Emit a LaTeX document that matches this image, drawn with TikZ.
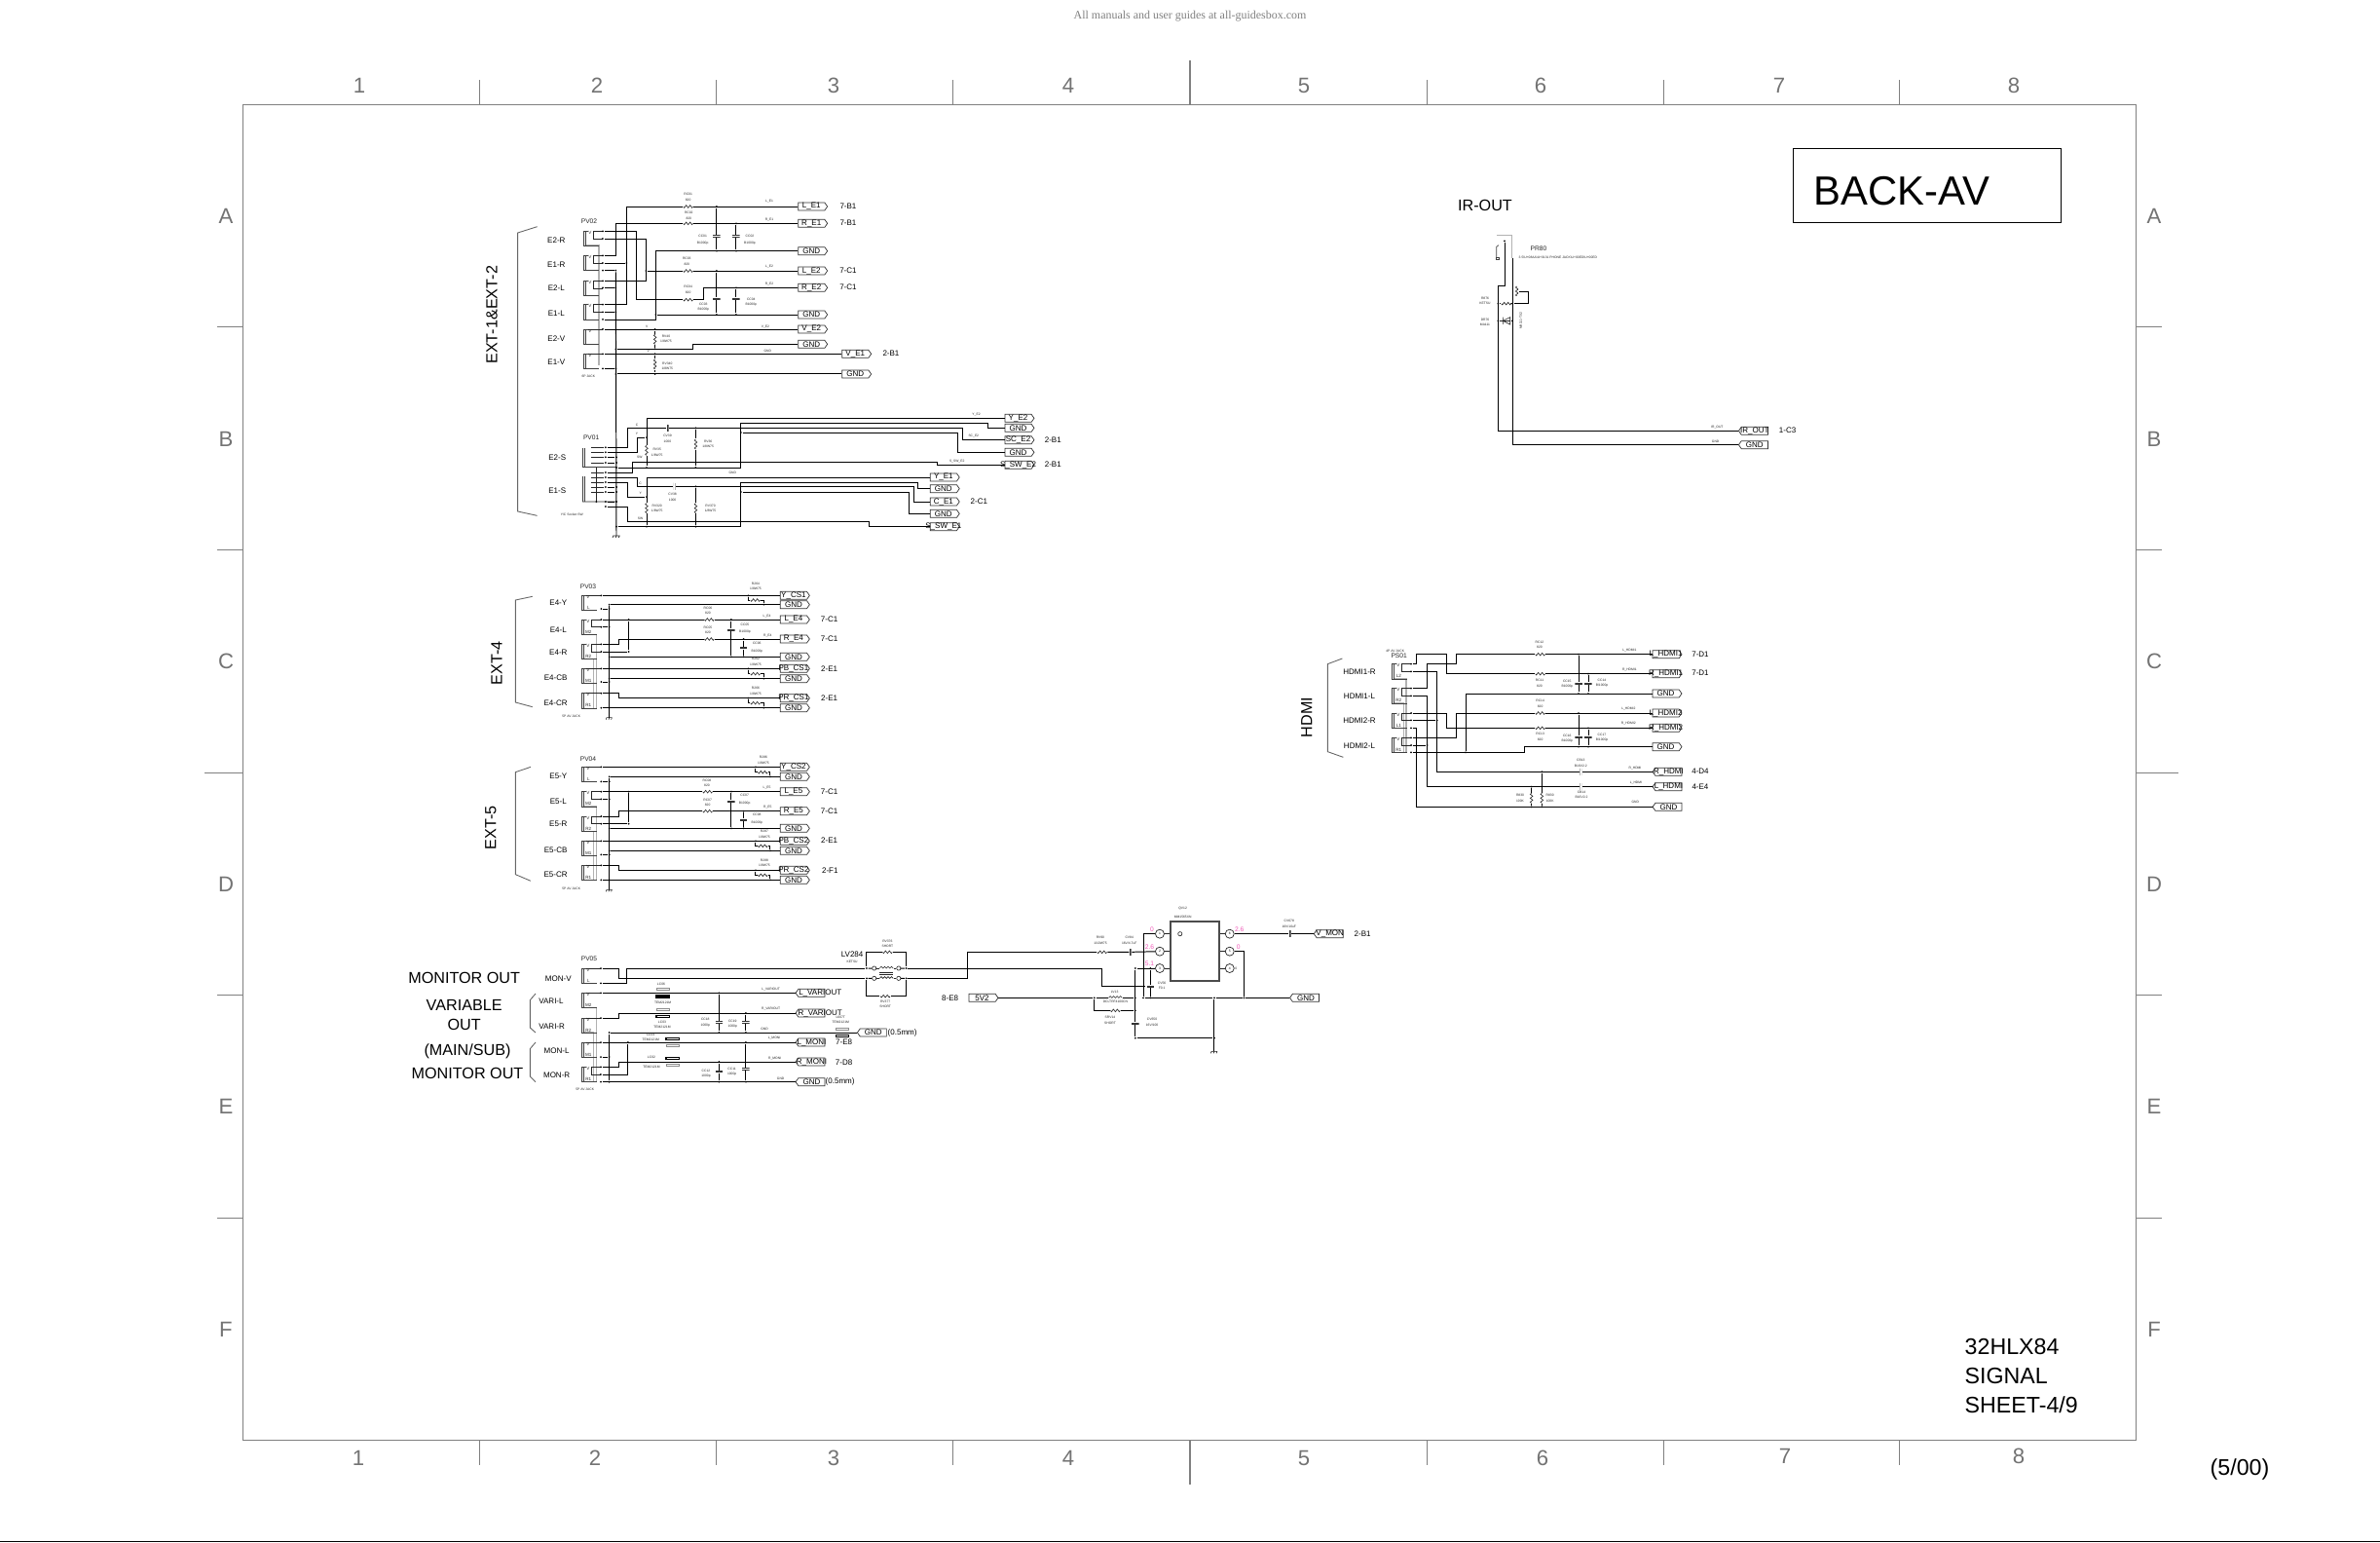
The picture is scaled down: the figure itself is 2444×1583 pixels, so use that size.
\documentclass[tikz,border=0pt]{standalone}
\usepackage{fontspec}
\setmainfont{Liberation Sans}
\newfontfamily\serfont{Liberation Serif}
\usetikzlibrary{shapes.symbols}
\newcommand{\fsheet}{\fontsize{6.3}{7}\selectfont}
\newcommand{\ftitle}{\fontsize{11.9}{13}\selectfont}
\newcommand{\fnote}{\fontsize{6.6}{8.5}\selectfont}
\newcommand{\fbig}{\fontsize{4.6}{5.4}\selectfont}
\newcommand{\flab}{\fontsize{2.28}{2.7}\selectfont}
\newcommand{\fpv}{\fontsize{1.9}{2.3}\selectfont}
\newcommand{\ftin}{\fontsize{0.95}{1.6}\selectfont}
\newcommand{\fpin}{\fontsize{1.3}{1.6}\selectfont}
\newcommand{\gtx}[1]{\makebox[0pt]{#1}}
\definecolor{pinkn}{RGB}{240,90,185}
\tikzset
{%
sec/.style n args={3}{shift={(#1,#2)}, x=0.1mm/#3, y=-0.1mm/3},
wire/.style={draw=black, line width=0.28pt},
thinw/.style={draw=black!85, line width=0.18pt},
jkl/.style={draw=black!75, line width=0.2pt},
shield/.style={draw=black!30, line width=0.4pt},
brace/.style={draw=black!60, line width=0.25pt},
framel/.style={draw=black!50, line width=0.3pt},
junc/.style={circle, fill=black, inner sep=0pt, minimum size=0.2mm},
big/.style={inner sep=0pt, font=\fbig, align=center},
lab/.style={inner sep=0pt, font=\flab},
pvt/.style={inner sep=0pt, font=\fpv, text=black!85},
tint/.style={inner sep=0pt, font=\ftin, align=center, text=black!85},
pint/.style={inner sep=0pt, font=\fpin, text=black!85},
volt/.style={inner sep=0pt, font=\fpv, text=pinkn},
sheetn/.style={inner sep=0pt, font=\fsheet, text=black!55},
gater/.style={signal, signal to=east, signal from=nowhere, signal pointer angle=110, draw=black!80, line width=0.2pt, inner sep=0pt, minimum width=3mm, minimum height=0.8mm, anchor=west, font=\flab},
gatel/.style={signal, signal to=west, signal from=nowhere, signal pointer angle=110, draw=black!80, line width=0.2pt, inner sep=0pt, minimum width=3mm, minimum height=0.8mm, anchor=west, font=\flab},
rzig/.style={rectangle, inner sep=0pt, minimum width=1mm, minimum height=0.34mm, path picture={
	\draw[thinw] (path picture bounding box.west) -- ++(.1mm,-.13mm) -- ++(.2mm,.26mm) -- ++(.2mm,-.26mm) -- ++(.2mm,.26mm) -- ++(.2mm,-.26mm) -- ++(.1mm,.13mm);
}},
rzigv/.style={rectangle, inner sep=0pt, minimum width=0.34mm, minimum height=1mm, path picture={
	\draw[thinw] (path picture bounding box.north) -- ++(-.13mm,-.1mm) -- ++(.26mm,-.2mm) -- ++(-.26mm,-.2mm) -- ++(.26mm,-.2mm) -- ++(-.26mm,-.2mm) -- ++(.13mm,-.1mm);
}},
capv/.style={rectangle, inner sep=0pt, minimum width=0.75mm, minimum height=0.16mm, path picture={
	\draw[draw=black!80, line width=0.2pt] (path picture bounding box.north west) -- (path picture bounding box.north east) (path picture bounding box.south west) -- (path picture bounding box.south east);
}},
caph/.style={rectangle, inner sep=0pt, minimum width=0.16mm, minimum height=0.75mm, path picture={
	\draw[draw=black!80, line width=0.2pt] (path picture bounding box.north west) -- (path picture bounding box.south west) (path picture bounding box.north east) -- (path picture bounding box.south east);
}},
coil/.style={rectangle, inner sep=0pt, minimum width=1.4mm, minimum height=0.5mm, path picture={
	\draw[thinw] (path picture bounding box.west) arc (180:0:.175mm) arc (180:0:.175mm) arc (180:0:.175mm) arc (180:0:.175mm);
}},
term/.style={circle, draw=black!85, line width=0.18pt, inner sep=0pt, minimum size=0.42mm},
pinc/.style={circle, draw=black!85, line width=0.2pt, inner sep=0pt, minimum size=0.9mm, font=\ftin},
chip/.style={rectangle, draw=black!70, line width=0.4pt, inner sep=0pt, minimum width=5mm, minimum height=6.1mm},
jackbd/.pic={
	\draw[jkl] (0,0) -- (13,0) (0,0) -- (0,46) (5,0) -- (5,46) (0,46) -- (46,46);
	\draw[thinw] (30,0) -- (59,0) (30,0) -- (30,23) -- (59,23);
	\node[pint] (v) at (20,5) {V};
},
jackbs/.pic={
	\draw[jkl] (0,0) -- (13,0) (0,0) -- (0,46) (5,0) -- (5,46) (0,46) -- (46,46);
	\draw[thinw] (13,0) -- (59,0);
	\node[pint] (v) at (20,5) {V};
},
jackd/.pic={
	\draw[jkl] (0,0) -- (13,0) (0,0) -- (0,46) (5,0) -- (5,46) (0,46) -- (46,46);
	\draw[thinw] (30,0) -- (59,0) (30,0) -- (30,23) -- (59,23);
	\node[pint] (v) at (20,5) {V};
	\node[pint] (m) at (21,38) {#1};
},
jacks/.pic={
	\draw[jkl] (0,0) -- (13,0) (0,0) -- (0,46) (5,0) -- (5,46) (0,46) -- (46,46);
	\draw[thinw] (13,0) -- (59,0);
	\node[pint] (v) at (20,5) {V};
	\node[pint] (m) at (21,38) {#1};
},
earth/.pic={
	\draw[thinw] (-9,0) -- (9,0) (-8,0) -- (-10,6) (0,0) -- (-2,6) (8,0) -- (6,6);
},
beadu/.pic={
	\draw[draw=black!45, line width=0.25pt] (-20,-14) rectangle (20,-8);
	\draw[draw=black, line width=0.3pt] (-20,8) rectangle (20,14);
},
beadd/.pic={
	\draw[draw=black, line width=0.3pt] (-20,-14) rectangle (20,-8);
	\draw[draw=black!45, line width=0.25pt] (-20,8) rectangle (20,14);
},
diode/.pic={
	\draw[thinw] (-8,-11) -- (-8,11) (-8,0) -- (14,-11) -- (14,11) -- cycle;
}
}

\begin{document}
\begin{tikzpicture}[x=0.1mm, y=-0.1mm]
	\path[use as bounding box, fill=white] (0,0) rectangle (2444,1583);

	% SHEET FRAME
	\draw[framel] (249.5,107.3) rectangle (2193.7,1478.7);
	\draw[framel] (492.5,82) -- (492.5,107.3) (735.5,82) -- (735.5,107.3) (978.5,82) -- (978.5,107.3) (1222,62) -- (1222,107.3) (1465,82) -- (1465,107.3) (1708,82) -- (1708,107.3) (1950.7,82) -- (1950.7,107.3);
	\draw[framel] (492.5,1478.7) -- (492.5,1504) (735.5,1478.7) -- (735.5,1504) (978.5,1478.7) -- (978.5,1504) (1222,1478.7) -- (1222,1524) (1465,1478.7) -- (1465,1504) (1708,1478.7) -- (1708,1504) (1950.7,1478.7) -- (1950.7,1504);
	\draw[framel] (223,335.9) -- (249.5,335.9) (223,564.5) -- (249.5,564.5) (210,793.1) -- (249.5,793.1) (223,1021.7) -- (249.5,1021.7) (223,1250.3) -- (249.5,1250.3);
	\draw[framel] (2193.7,335.9) -- (2220,335.9) (2193.7,564.5) -- (2220,564.5) (2193.7,793.1) -- (2237,793.1) (2193.7,1021.7) -- (2220,1021.7) (2193.7,1250.3) -- (2220,1250.3);
	\draw[draw=black, line width=0.28pt] (0,1582.5) -- (2444,1582.5);

	\node[inner sep=0pt, font=\serfont\fontsize{3.4}{4}\selectfont, text=black!50] (webt) at (1222,17) {All manuals and user guides at all-guidesbox.com};

	\node[sheetn] (t1) at (369,88) {1};
	\node[sheetn] (t2) at (613,88) {2};
	\node[sheetn] (t3) at (856,88) {3};
	\node[sheetn] (t4) at (1097,88) {4};
	\node[sheetn] (t5) at (1339,88) {5};
	\node[sheetn] (t6) at (1582,88) {6};
	\node[sheetn] (t7) at (1827,88) {7};
	\node[sheetn] (t8) at (2068,88) {8};
	\node[sheetn] (b1) at (368,1497) {1};
	\node[sheetn] (b2) at (611,1497) {2};
	\node[sheetn] (b3) at (856,1497) {3};
	\node[sheetn] (b4) at (1097,1497) {4};
	\node[sheetn] (b5) at (1339,1497) {5};
	\node[sheetn] (b6) at (1584,1497) {6};
	\node[sheetn] (b7) at (1833,1495) {7};
	\node[sheetn] (b8) at (2073,1495) {8};
	\node[sheetn] (la) at (232,222) {A};
	\node[sheetn] (lb) at (232,451) {B};
	\node[sheetn] (lc) at (232,679) {C};
	\node[sheetn] (ld) at (232,908) {D};
	\node[sheetn] (le) at (232,1136) {E};
	\node[sheetn] (lf) at (232,1365) {F};
	\node[sheetn] (ra) at (2212,222) {A};
	\node[sheetn] (rb) at (2212,451) {B};
	\node[sheetn] (rc) at (2212,679) {C};
	\node[sheetn] (rd) at (2212,908) {D};
	\node[sheetn] (re) at (2212,1136) {E};
	\node[sheetn] (rf) at (2212,1365) {F};

	\node[rectangle, draw=black, line width=0.35pt, inner sep=0pt, minimum width=27.54mm, minimum height=7.6mm] (titlebox) at (1979,190.3) {};
	\node[inner sep=0pt, font=\ftitle, anchor=base west] (titlet) at (1862,210) {BACK-AV};
	\node[inner sep=0pt, font=\fnote, anchor=base west] (sh1) at (2017,1390) {32HLX84};
	\node[inner sep=0pt, font=\fnote, anchor=base west] (sh2) at (2017,1420) {SIGNAL};
	\node[inner sep=0pt, font=\fnote, anchor=base west] (sh3) at (2017,1450) {SHEET-4/9};
	\node[inner sep=0pt, font=\fnote, anchor=base west] (sh4) at (2269,1514) {(5/00)};

	%EXT-1 audio and video
	\begin{scope}[sec={480}{190}{3}]
		\draw[brace] (215,128) -- (155,147) -- (155,630);
		\draw[shield] (362,186) -- (405,186) -- (405,555);
		\node[big, rotate=90] (ext12t) at (75,400) {EXT-1\&EXT-2};
		\node[pvt] (pv02t) at (375,113) {PV02};
		\node[lab] (e2rt) at (274,169) {E2-R};
		\node[lab] (e1rt) at (274,246) {E1-R};
		\node[lab] (e2lt) at (274,318) {E2-L};
		\node[lab] (e1lt) at (274,394) {E1-L};
		\node[lab] (e2vt) at (274,474) {E2-V};
		\node[lab] (e1vt) at (274,546) {E1-V};
		\node[tint] (jack6t) at (373,590) {6P JACK};
		\pic at (358,142) {jackbd};
		\pic at (358,217) {jackbd};
		\pic at (358,295) {jackbd};
		\pic at (358,368) {jackbd};
		\pic at (358,444) {jackbs};
		\pic at (358,520) {jackbs};

		\node[junc] (e2ra) at (417,142) {};
		\node[junc] (e2rb) at (417,165) {};
		\node[junc] (e1ra) at (417,217) {};
		\node[junc] (e1rb) at (417,240) {};
		\node[junc] (e1rc) at (417,263) {};
		\node[junc] (e2la) at (417,295) {};
		\node[junc] (e2lb) at (417,316) {};
		\node[junc] (e1la) at (417,368) {};
		\node[junc] (e1lb) at (417,391) {};
		\node[junc] (e1lc) at (417,414) {};
		\node[junc] (e2va) at (417,444) {};
		\node[junc] (e1va) at (417,520) {};
		\node[junc] (e1vb) at (417,565) {};
		\node[junc] (busa) at (457,263) {};
		\node[junc] (busb) at (457,316) {};
		\node[junc] (busc) at (457,391) {};
		\node[junc] (busd) at (457,505) {};
		\node[junc] (buse) at (457,565) {};
		\node[junc] (busf) at (457,582) {};
		\node[junc] (j490) at (490,240) {};
		\node[junc] (j550) at (550,264) {};
		\node[junc] (j580) at (580,399) {};

		\node[rzig] (rc01) at (680,66) {};
		\node[rzig] (rc02) at (680,118) {};
		\node[rzig] (rc03) at (680,264) {};
		\node[rzig] (rc04) at (680,353) {};
		\node[tint] (rc01t) at (680,37) {RC01\\820};
		\node[tint] (rc02t) at (682,94) {RC02\\820};
		\node[tint] (rc03t) at (676,235) {RC03\\820};
		\node[tint] (rc04t) at (680,322) {RC04\\820};

		\node[gater] (lE1) at (1018,66) {\gtx{L\_E1}};
		\node[gater] (rE1) at (1018,118) {\gtx{R\_E1}};
		\node[gater] (gnd1) at (1018,203) {\gtx{GND}};
		\node[gater] (lE2) at (1018,264) {\gtx{L\_E2}};
		\node[gater] (rE2) at (1018,316) {\gtx{R\_E2}};
		\node[gater] (gnd2) at (1018,399) {\gtx{GND}};
		\node[gater] (vE2) at (1018,444) {\gtx{V\_E2}};
		\node[gater] (gnd3) at (1018,490) {\gtx{GND}};
		\node[gater] (vE1) at (1153,520) {\gtx{V\_E1}};
		\node[gater] (gnd4) at (1153,582) {\gtx{GND}};
		\node[lab] (s1t) at (1173,64) {7-B1};
		\node[lab] (s2t) at (1173,117) {7-B1};
		\node[lab] (s3t) at (1173,262) {7-C1};
		\node[lab] (s4t) at (1173,315) {7-C1};
		\node[lab] (s5t) at (1305,519) {2-B1};
		\node[tint] (n1t) at (930,51) {L\_E1};
		\node[tint] (n2t) at (930,107) {R\_E1};
		\node[tint] (n3t) at (930,250) {L\_E2};
		\node[tint] (n4t) at (930,305) {R\_E2};
		\node[tint] (n5t) at (918,436) {V\_E2};
		\node[tint] (n6t) at (925,512) {GND};
		\node[tint] (v1t) at (553,436) {V};
		\node[tint] (v2t) at (557,510) {V};

		\draw[wire] (e2ra) -- ++(103,0) |- (rc04);
		\draw[wire] (e2rb) -- ++(133,0) |- (e2la);
		\draw[wire] (j550) -- (rc03);
		\draw[wire] (e1ra) -- ++(40,0) |- (rc02);
		\draw[wire] (e1rb) -- (j490);
		\draw[wire] (e1la) -- ++(73,0) |- (rc01);
		\draw[wire] (e1rc) -- (busa) (e2lb) -- (busb) (e1lb) -- (busc) (e1vb) -- (buse);
		\draw[wire] (e1lc) -- ++(163,0) |- (gnd1.west);
		\draw[wire] (j580) -- (gnd2.west);
		\draw[wire] (rc01) -- (lE1.west) (rc02) -- (rE1.west) (rc03) -- (lE2.west);
		\draw[wire] (rc04) -- ++(48,0) |- (rE2.west);
		\draw[wire] (e2va) -- (vE2.west) (e1va) -- (vE1.west);
		\draw[wire] (busd) -- ++(238,0) |- (gnd3.west);
		\draw[wire] (busf) -- (gnd4.west);

		%filter caps
		\node[junc] (c1a) at (768,66) {};
		\node[junc] (c1b) at (768,203) {};
		\node[junc] (c2a) at (828,118) {};
		\node[junc] (c2b) at (828,203) {};
		\node[junc] (c3a) at (768,264) {};
		\node[junc] (c3b) at (768,399) {};
		\node[junc] (c4a) at (828,316) {};
		\node[junc] (c4b) at (828,399) {};
		\node[capv] (cc01) at (768,157) {};
		\node[capv] (cc02) at (828,157) {};
		\node[capv] (cc03) at (768,350) {};
		\node[capv] (cc04) at (828,350) {};
		\draw[wire] (c1a) -- (cc01) -- (c1b) (c2a) -- (cc02) -- (c2b) (c3a) -- (cc03) -- (c3b) (c4a) -- (cc04) -- (c4b);
		\node[tint] (cc01t) at (725,169) {CC01\\[.3pt]B1000p};
		\node[tint] (cc02t) at (870,168) {CC02\\[.3pt]B1000p};
		\node[tint] (cc03t) at (727,376) {CC03\\B1000p};
		\node[tint] (cc04t) at (874,361) {CC04\\B1000p};

		%video loads
		\node[junc] (v1a) at (578,444) {};
		\node[junc] (v1b) at (578,505) {};
		\node[junc] (v2a) at (578,520) {};
		\node[junc] (v2b) at (578,582) {};
		\node[rzigv] (rv40) at (578,475) {};
		\node[rzigv] (rv340) at (578,552) {};
		\draw[wire] (v1a) -- (rv40) -- (v1b) (v2a) -- (rv340) -- (v2b);
		\node[tint] (rv40t) at (612,474) {RV40\\1/8W75};
		\node[tint] (rv340t) at (616,558) {RV340\\1/8W75};
	\end{scope}

	%EXT-1 S terminal
	\begin{scope}[sec={480}{400}{2.516}]
		\draw[brace] (130,0) -- (130,375) -- (180,388);
		\draw[shield] (297,345) -- (385,345);
		\draw[thinw] (333,238) -- (333,345);
		\draw[jkl] (297,180) -- (297,238) (302,180) -- (302,238) (297,238) -- (385,238);
		\draw[jkl] (297,268) -- (297,345) (302,268) -- (302,345);
		\node[pvt] (pv01t) at (320,147) {PV01};
		\node[lab] (e2st) at (232,210) {E2-S};
		\node[lab] (e1st) at (232,310) {E1-S};
		\node[tint] (ycsw) at (270,385) {Y/C Socket SW};

		\node[junc] (s2a) at (357,178) {};
		\node[junc] (s2b) at (357,193) {};
		\node[junc] (s2c) at (357,208) {};
		\node[junc] (s2d) at (357,225) {};
		\node[junc] (s2e) at (357,255) {};
		\node[junc] (s1a) at (357,270) {};
		\node[junc] (s1b) at (357,285) {};
		\node[junc] (s1c) at (357,300) {};
		\node[junc] (s1d) at (357,315) {};
		\node[junc] (s1e) at (357,345) {};
		\node[junc] (s1f) at (357,360) {};
		\node[junc] (s1g) at (333,345) {};
		\draw[thinw] (s2a) -- ++(-37,0) (s2b) -- ++(-37,0) (s2c) -- ++(-37,0) (s2d) -- ++(-37,0) (s2e) -- ++(-37,0) (s1a) -- ++(-37,0) (s1b) -- ++(-37,0) (s1c) -- ++(-37,0) (s1d) -- ++(-37,0);

		\node[junc] (bus1) at (385,208) {};
		\node[junc] (bus2) at (385,225) {};
		\node[junc] (bus3) at (385,240) {};
		\node[junc] (bus4) at (385,300) {};
		\node[junc] (bus5) at (385,315) {};
		\node[junc] (bus6) at (385,345) {};
		\node[junc] (bus7) at (385,422) {};
		\coordinate (gnda) at (385,450);
		\pic at (gnda) {earth};
		\draw[wire] (busa) -- (gnda);
		\draw[wire] (s2c) -- (bus1) (s2d) -- (bus2) (s1c) -- (bus4) (s1d) -- (bus5) (s1e) -- (bus6);

		\node[gater] (yE2) at (1388,88) {\gtx{Y\_E2}};
		\node[gater] (gnd5) at (1388,118) {\gtx{GND}};
		\node[gater] (scE2) at (1388,155) {\gtx{SC\_E2}};
		\node[gater] (gnd6) at (1388,193) {\gtx{GND}};
		\node[gater] (ssE2) at (1388,232) {\gtx{S\_SW\_E2}};
		\node[gater] (yE1) at (1195,270) {\gtx{Y\_E1}};
		\node[gater] (gnd7) at (1195,305) {\gtx{GND}};
		\node[gater] (cE1) at (1195,345) {\gtx{C\_E1}};
		\node[gater] (gnd8) at (1195,382) {\gtx{GND}};
		\node[gater] (ssE1) at (1195,422) {\gtx{S\_SW\_E1}};
		\node[lab] (s6t) at (1513,155) {2-B1};
		\node[lab] (s7t) at (1513,230) {2-B1};
		\node[lab] (s8t) at (1322,343) {2-C1};

		\node[caph] (cv39) at (518,118) {};
		\node[caph] (cv38) at (535,298) {};
		\node[rzigv] (rv35) at (463,187) {};
		\node[rzigv] (rv36) at (590,168) {};
		\node[rzigv] (rv320) at (463,365) {};
		\node[rzigv] (rv370) at (590,365) {};
		\node[junc] (j463a) at (463,147) {};
		\node[junc] (j463b) at (463,240) {};
		\node[junc] (j590a) at (590,118) {};
		\node[junc] (j590b) at (590,240) {};
		\node[junc] (j707a) at (707,132) {};
		\node[junc] (j463c) at (463,330) {};
		\node[junc] (j463d) at (463,422) {};
		\node[junc] (j590c) at (590,298) {};
		\node[junc] (j590d) at (590,422) {};
		\node[junc] (j707b) at (707,315) {};

		\draw[wire] (s2a) -- ++(56,0) |- (cv39);
		\draw[wire] (cv39) -- ++(762,0) |- (scE2.west);
		\draw[wire] (j590a) -- (rv36) -- (j590b);
		\draw[wire] (s2b) -- ++(81,0) |- (j463a);
		\draw[wire] (yE2.west) -| (rv35) -- (j463b);
		\draw[wire] (bus3) -- ++(322,0) -- ++(0,-137) -- ++(638,0) |- (gnd5.west);
		\draw[wire] (j707a) -- ++(560,0) |- (gnd6.west);
		\draw[wire] (s2e) -- ++(70,0) -- ++(0,-32) -- ++(788,0) |- (ssE2.west);

		\draw[wire] (s1a) -- ++(83,0) |- (cv38);
		\draw[wire] (cv38) -- ++(618,0) |- (cE1.west);
		\draw[wire] (j590c) -- (rv370) -- (j590d);
		\draw[wire] (s1b) -- ++(56,0) |- (j463c);
		\draw[wire] (yE1.west) -| (rv320) -- (j463d);
		\draw[wire] (bus7) -- ++(322,0) -- ++(0,-135) -- ++(458,0) |- (gnd7.west);
		\draw[wire] (j707b) -- ++(433,0) |- (gnd8.west);
		\draw[wire] (s1f) -- ++(56,0) -- ++(0,45) -- ++(625,0) |- (ssE1.west);

		\node[tint] (ct1) at (438,108) {C};
		\node[tint] (yt1) at (438,135) {Y};
		\node[tint] (swt1) at (445,208) {SW};
		\node[tint] (ct2) at (447,288) {C};
		\node[tint] (yt2) at (447,318) {Y};
		\node[tint] (swt2) at (447,397) {SW};
		\node[tint] (cv39t) at (517,151) {CV39\\1000};
		\node[tint] (cv38t) at (530,331) {CV38\\1000};
		\node[tint] (rv36t) at (622,168) {RV36\\1/8W75};
		\node[tint] (rv35t) at (490,193) {RV35\\1/8W75};
		\node[tint] (rv320t) at (490,366) {RV320\\1/8W75};
		\node[tint] (rv370t) at (628,366) {RV370\\1/8W75};
		\node[tint] (n7t) at (1315,77) {Y\_E2};
		\node[tint] (n8t) at (1308,142) {SC\_E2};
		\node[tint] (n9t) at (1265,220) {S\_SW\_E2};
		\node[tint] (n10t) at (685,255) {GND};
	\end{scope}

	%EXT-4
	\begin{scope}[sec={480}{590}{3}]
		\draw[brace] (200,67) -- (148,78) -- (148,393) -- (200,407);
		\draw[shield] (358,184) -- (398,184) -- (398,410);
		\draw[shield] (358,260) -- (388,260) -- (388,410);
		\node[big, rotate=90] (ext4t) at (90,272) {EXT-4};
		\node[pvt] (pv03t) at (372,38) {PV03};
		\node[lab] (e4yt) at (280,87) {E4-Y};
		\node[lab] (e4lt) at (280,169) {E4-L};
		\node[lab] (e4rt) at (280,240) {E4-R};
		\node[lab] (e4cbt) at (272,318) {E4-CB};
		\node[lab] (e4crt) at (272,394) {E4-CR};
		\node[tint] (jack5a) at (320,435) {5P AV JACK};
		\pic at (352,64) {jacks={L}};
		\pic at (352,138) {jackd={M2}};
		\pic at (352,214) {jackd={R2}};
		\pic at (352,289) {jacks={M1}};
		\pic at (352,365) {jacks={R1}};

		\node[junc] (p4a) at (412,64) {};
		\node[junc] (p4b) at (412,105) {};
		\node[junc] (p4c) at (412,138) {};
		\node[junc] (p4d) at (412,161) {};
		\node[junc] (p4e) at (412,214) {};
		\node[junc] (p4f) at (412,237) {};
		\node[junc] (p4g) at (412,289) {};
		\node[junc] (p4h) at (412,330) {};
		\node[junc] (p4i) at (412,365) {};
		\node[junc] (p4j) at (412,410) {};
		\node[junc] (b4a) at (437,105) {};
		\node[junc] (b4b) at (437,161) {};
		\node[junc] (b4c) at (437,92) {};
		\node[junc] (b4d) at (437,253) {};
		\node[junc] (b4e) at (437,320) {};
		\node[junc] (b4f) at (437,330) {};
		\node[junc] (b4g) at (437,410) {};
		\coordinate (gnd4a) at (437,440);
		\pic at (gnd4a) {earth};
		\draw[wire] (b4c) -- (gnd4a);
		\draw[wire] (p4b) -- (b4a) (p4d) -- (b4b) (p4h) -- (b4f);

		\node[gater] (yCS1) at (963,64) {\gtx{Y\_CS1}};
		\node[gater] (gnd9) at (963,92) {\gtx{GND}};
		\node[gater] (lE4) at (963,138) {\gtx{L\_E4}};
		\node[gater] (rE4) at (963,198) {\gtx{R\_E4}};
		\node[gater] (gnd10) at (963,253) {\gtx{GND}};
		\node[gater] (pbCS1) at (963,289) {\gtx{PB\_CS1}};
		\node[gater] (gnd11) at (963,320) {\gtx{GND}};
		\node[gater] (prCS1) at (963,380) {\gtx{PR\_CS1}};
		\node[gater] (gnd12) at (963,410) {\gtx{GND}};
		\node[lab] (s9t) at (1115,137) {7-C1};
		\node[lab] (s10t) at (1115,198) {7-C1};
		\node[lab] (s11t) at (1115,289) {2-E1};
		\node[lab] (s12t) at (1115,380) {2-E1};

		\node[rzig] (r264) at (887,78) {};
		\node[rzig] (r262) at (887,305) {};
		\node[rzig] (r266) at (887,395) {};
		\node[rzig] (rc06) at (745,138) {};
		\node[rzig] (rc05) at (745,198) {};
		\node[junc] (j865a) at (865,64) {};
		\node[junc] (j913a) at (913,92) {};
		\node[junc] (j865b) at (865,289) {};
		\node[junc] (j913b) at (913,320) {};
		\node[junc] (j865c) at (865,380) {};
		\node[junc] (j913c) at (913,410) {};
		\node[junc] (j497a) at (497,138) {};
		\node[junc] (j497b) at (497,237) {};
		\node[junc] (j813a) at (813,138) {};
		\node[junc] (j813b) at (813,253) {};
		\node[junc] (j851a) at (851,198) {};
		\node[junc] (j851b) at (851,253) {};
		\node[capv] (cc05) at (813,170) {};
		\node[capv] (cc06) at (851,225) {};

		\draw[wire] (p4a) -- (yCS1.west) (b4c) -- (gnd9.west) (p4g) -- (pbCS1.west) (b4e) -- (gnd11.west) (p4j) -- (gnd12.west) (b4d) -- (gnd10.west);
		\draw[wire] (j865a) |- (r264) -| (j913a);
		\draw[wire] (j865b) |- (r262) -| (j913b);
		\draw[wire] (j865c) |- (r266) -| (j913c);
		\draw[wire] (p4c) -- (rc06) -- (lE4.west);
		\draw[wire] (p4e) -- ++(55,0) |- (rc05);
		\draw[wire] (rc05) -- (rE4.west);
		\draw[wire] (j497a) -- (j497b) -- (p4f);
		\draw[wire] (p4i) -- ++(55,0) |- (prCS1.west);
		\draw[wire] (j813a) -- (cc05) -- (j813b) (j851a) -- (cc06) -- (j851b);

		\node[tint] (r264t) at (888,36) {R264\\1/8W75};
		\node[tint] (rc06t) at (741,111) {RC06\\820};
		\node[tint] (rc05t) at (741,171) {RC05\\820};
		\node[tint] (cc05t) at (855,165) {CC05\\[.4pt]B1000p};
		\node[tint] (cc06t) at (892,224) {CC06\\[.4pt]B1000p};
		\node[tint] (r262t) at (888,268) {R262\\1/8W75};
		\node[tint] (r266t) at (888,358) {R266\\1/8W75};
		\node[tint] (n11t) at (923,128) {L\_E4};
		\node[tint] (n12t) at (925,187) {R\_E4};
	\end{scope}

	%EXT-5
	\begin{scope}[sec={480}{770}{3}]
		\draw[brace] (195,52) -- (148,68) -- (148,383) -- (195,403);
		\draw[shield] (358,174) -- (398,174) -- (398,400);
		\draw[shield] (358,250) -- (388,250) -- (388,400);
		\node[big, rotate=90] (ext5t) at (72,240) {EXT-5};
		\node[pvt] (pv04t) at (372,28) {PV04};
		\node[lab] (e5yt) at (280,80) {E5-Y};
		\node[lab] (e5lt) at (280,157) {E5-L};
		\node[lab] (e5rt) at (280,228) {E5-R};
		\node[lab] (e5cbt) at (272,309) {E5-CB};
		\node[lab] (e5crt) at (272,384) {E5-CR};
		\node[tint] (jack5b) at (320,428) {5P AV JACK};
		\pic at (352,52) {jacks={L}};
		\pic at (352,128) {jackd={M2}};
		\pic at (352,204) {jackd={R2}};
		\pic at (352,280) {jacks={M1}};
		\pic at (352,355) {jacks={R1}};

		\node[junc] (p5a) at (412,52) {};
		\node[junc] (p5b) at (412,97) {};
		\node[junc] (p5c) at (412,128) {};
		\node[junc] (p5d) at (412,151) {};
		\node[junc] (p5e) at (412,204) {};
		\node[junc] (p5f) at (412,227) {};
		\node[junc] (p5g) at (412,280) {};
		\node[junc] (p5h) at (412,322) {};
		\node[junc] (p5i) at (412,355) {};
		\node[junc] (p5j) at (412,400) {};
		\node[junc] (b5a) at (437,97) {};
		\node[junc] (b5b) at (437,151) {};
		\node[junc] (b5c) at (437,82) {};
		\node[junc] (b5d) at (437,241) {};
		\node[junc] (b5e) at (437,310) {};
		\node[junc] (b5f) at (437,322) {};
		\node[junc] (b5g) at (437,400) {};
		\coordinate (gnd5a) at (437,430);
		\pic at (gnd5a) {earth};
		\draw[wire] (b5c) -- (gnd5a);
		\draw[wire] (p5b) -- (b5a) (p5d) -- (b5b) (p5h) -- (b5f);

		\node[gater] (yCS2) at (963,52) {\gtx{Y\_CS2}};
		\node[gater] (gnd13) at (963,82) {\gtx{GND}};
		\node[gater] (lE5) at (963,128) {\gtx{L\_E5}};
		\node[gater] (rE5) at (963,188) {\gtx{R\_E5}};
		\node[gater] (gnd14) at (963,241) {\gtx{GND}};
		\node[gater] (pbCS2) at (963,280) {\gtx{PB\_CS2}};
		\node[gater] (gnd15) at (963,310) {\gtx{GND}};
		\node[gater] (prCS2) at (963,370) {\gtx{PR\_CS2}};
		\node[gater] (gnd16) at (963,400) {\gtx{GND}};
		\node[lab] (s13t) at (1115,127) {7-C1};
		\node[lab] (s14t) at (1115,187) {7-C1};
		\node[lab] (s15t) at (1115,278) {2-E1};
		\node[lab] (s16t) at (1117,370) {2-F1};

		\node[rzig] (r286) at (910,68) {};
		\node[rzig] (r287) at (910,295) {};
		\node[rzig] (r288) at (910,385) {};
		\node[rzig] (rc08) at (740,128) {};
		\node[rzig] (rc07) at (740,188) {};
		\node[junc] (j888a) at (888,52) {};
		\node[junc] (j933a) at (933,82) {};
		\node[junc] (j888b) at (888,280) {};
		\node[junc] (j933b) at (933,310) {};
		\node[junc] (j888c) at (888,370) {};
		\node[junc] (j933c) at (933,400) {};
		\node[junc] (j497c) at (497,128) {};
		\node[junc] (j497d) at (497,227) {};
		\node[junc] (j813c) at (813,128) {};
		\node[junc] (j813d) at (813,241) {};
		\node[junc] (j851c) at (851,188) {};
		\node[junc] (j851d) at (851,241) {};
		\node[capv] (cc07) at (813,158) {};
		\node[capv] (cc08) at (851,215) {};

		\draw[wire] (p5a) -- (yCS2.west) (b5c) -- (gnd13.west) (p5g) -- (pbCS2.west) (b5e) -- (gnd15.west) (p5j) -- (gnd16.west) (b5d) -- (gnd14.west);
		\draw[wire] (j888a) |- (r286) -| (j933a);
		\draw[wire] (j888b) |- (r287) -| (j933b);
		\draw[wire] (j888c) |- (r288) -| (j933c);
		\draw[wire] (p5c) -- (rc08) -- (lE5.west);
		\draw[wire] (p5e) -- ++(55,0) |- (rc07);
		\draw[wire] (rc07) -- (rE5.west);
		\draw[wire] (j497c) -- (j497d) -- (p5f);
		\draw[wire] (p5i) -- ++(55,0) |- (prCS2.west);
		\draw[wire] (j813c) -- (cc07) -- (j813d) (j851c) -- (cc08) -- (j851d);

		\node[tint] (r286t) at (912,31) {R286\\1/8W75};
		\node[tint] (rc08t) at (738,101) {RC08\\820};
		\node[tint] (rc07t) at (740,161) {RC07\\820};
		\node[tint] (cc07t) at (854,152) {CC07\\[.4pt]B1000p};
		\node[tint] (cc08t) at (892,212) {CC08\\[.4pt]B1000p};
		\node[tint] (r287t) at (915,259) {R287\\1/8W75};
		\node[tint] (r288t) at (915,347) {R288\\1/8W75};
		\node[tint] (n13t) at (923,117) {L\_E5};
		\node[tint] (n14t) at (925,177) {R\_E5};
	\end{scope}

	%MONITOR and VARIABLE OUT
	\begin{scope}[sec={400}{960}{3}]
		\draw[brace] (450,180) -- (433,200) -- (433,285) -- (450,300);
		\draw[brace] (450,330) -- (433,350) -- (433,435) -- (450,452);
		\draw[shield] (597,224) -- (638,224) -- (638,452);
		\draw[shield] (597,300) -- (628,300) -- (628,452);
		\node[big] (mont1) at (230,132) {MONITOR OUT};
		\node[big] (vart) at (230,216) {VARIABLE};
		\node[big] (outt) at (230,277) {OUT};
		\node[big] (mainsubt) at (240,357) {(MAIN/SUB)};
		\node[big] (mont2) at (240,427) {MONITOR OUT};
		\node[lab] (monvt) at (520,133) {MON-V};
		\node[lab] (varilt) at (498,203) {VARI-L};
		\node[lab] (varirt) at (500,280) {VARI-R};
		\node[lab] (monlt) at (515,355) {MON-L};
		\node[lab] (monrt) at (515,431) {MON-R};
		\node[pvt] (pv05t) at (615,74) {PV05};
		\node[tint] (jack5c) at (602,475) {5P AV JACK};
		\pic at (592,102) {jacks={L}};
		\pic at (592,178) {jacks={M2}};
		\pic at (592,255) {jacks={R2}};
		\pic at (592,330) {jacks={M1}};
		\pic at (592,406) {jackd={R1}};

		\node[junc] (p6a) at (651,102) {};
		\node[junc] (p6b) at (651,148) {};
		\node[junc] (p6c) at (651,178) {};
		\node[junc] (p6d) at (651,255) {};
		\node[junc] (p6e) at (651,330) {};
		\node[junc] (p6f) at (651,375) {};
		\node[junc] (p6g) at (651,406) {};
		\node[junc] (p6h) at (651,429) {};
		\node[junc] (p6i) at (651,452) {};
		\node[junc] (b6a) at (677,300) {};
		\node[junc] (b6b) at (677,375) {};
		\node[junc] (b6c) at (677,452) {};
		\node[junc] (lva) at (1470,102) {};
		\node[junc] (lvb) at (1470,133) {};
		\node[junc] (j735) at (735,330) {};

		\node[gatel] (lVari) at (1250,178) {\gtx{\hspace*{5pt}L\_VARIOUT}};
		\node[gatel] (rVari) at (1250,240) {\gtx{\hspace*{5pt}R\_VARIOUT}};
		\node[gatel] (gnd17) at (1440,300) {\gtx{GND}};
		\node[gatel] (lMoni) at (1250,330) {\gtx{L\_MONI}};
		\node[gatel] (rMoni) at (1250,390) {\gtx{R\_MONI}};
		\node[gatel] (gnd18) at (1250,452) {\gtx{GND}};
		\node[lab] (s17t) at (1400,330) {7-E8};
		\node[lab] (s18t) at (1400,392) {7-D8};
		\node[lab] (s19t) at (1388,452) {(0.5mm)};
		\node[lab] (s20t) at (1580,300) {(0.5mm)};

		\draw[wire] (p6a) -- ++(56,0) |- (lvb);
		\draw[wire] (p6b) -- ++(79,0) |- (lva);
		\draw[wire] (p6c) -- (lVari.west);
		\draw[wire] (p6d) -- ++(56,0) |- (rVari.west);
		\draw[wire] (p6e) -- (lMoni.west);
		\draw[wire] (p6g) -- ++(56,0) |- (rMoni.west);
		\draw[wire] (p6h) -| (j735);
		\draw[wire] (b6a) -- (gnd17.west);
		\draw[wire] (b6a) -- (b6c);
		\draw[wire] (p6f) -- (b6b);
		\draw[wire] (p6i) -- (gnd18.west);

		\node[junc] (j1015a) at (1015,178) {};
		\node[junc] (j1015b) at (1015,300) {};
		\node[junc] (j1098a) at (1098,240) {};
		\node[junc] (j1098b) at (1098,300) {};
		\node[junc] (j1015c) at (1015,390) {};
		\node[junc] (j1015d) at (1015,452) {};
		\node[junc] (j1098c) at (1098,330) {};
		\node[junc] (j1098d) at (1098,452) {};
		\node[capv] (cc18) at (1015,268) {};
		\node[capv] (cc19) at (1098,268) {};
		\node[capv] (cc12) at (1015,420) {};
		\node[capv] (cc11) at (1098,412) {};
		\draw[wire] (j1015a) -- (cc18) -- (j1015b) (j1098a) -- (cc19) -- (j1098b) (j1015c) -- (cc12) -- (j1015d) (j1098c) -- (cc11) -- (j1098d);

		\pic at (842,178) {beadu};
		\pic at (842,240) {beadu};
		\pic at (872,330) {beadd};
		\pic at (872,390) {beadd};
		\pic at (1395,300) {beadu};

		\node[tint] (lc06t) at (837,151) {LC06};
		\node[tint] (tem1t) at (842,208) {TEM2121M};
		\node[tint] (lc03t) at (840,275) {LC03\\TEM2121M};
		\node[tint] (lc01t) at (805,314) {LC01\\TEM2121M};
		\node[tint] (lc02t) at (807,391) {LC02\\[1pt]TEM2121M};
		\node[tint] (cc18t) at (973,269) {CC18\\1000p};
		\node[tint] (cc19t) at (1057,274) {CC19\\1000p};
		\node[tint] (cc12t) at (975,426) {CC12\\1000p};
		\node[tint] (cc11t) at (1055,421) {CC11\\1000p};
		\node[tint] (l607t) at (1390,261) {L607T\\TEM2121M};
		\node[tint] (n15t) at (1175,166) {L\_VARIOUT};
		\node[tint] (n16t) at (1175,226) {R\_VARIOUT};
		\node[tint] (n17t) at (1155,289) {GND};
		\node[tint] (n18t) at (1185,316) {L\_MONI};
		\node[tint] (n19t) at (1187,379) {R\_MONI};
		\node[tint] (n20t) at (1205,441) {GND};
	\end{scope}

	%LV284 and QV12
	\begin{scope}[sec={860}{920}{2.786}]
		\node[term] (ta) at (105,222) {};
		\node[term] (tb) at (175,222) {};
		\node[term] (tc) at (105,253) {};
		\node[term] (td) at (175,253) {};
		\node[coil] (cu) at (140,222) {};
		\node[coil] (cd) at (140,253) {};
		\node[junc] (jr1) at (197,222) {};
		\node[junc] (jr2) at (197,253) {};
		\node[rzig] (rv376) at (143,172) {};
		\node[rzig] (rv377) at (137,308) {};
		\draw[wire] (lva) -- (ta) (lvb) -- (tc) (tb) -- (jr1) (td) -- (jr2);
		\draw[thinw] (ta) -- (cu) -- (tb) (tc) -- (cd) -- (td);
		\draw[thinw] (120,235) -- (160,235) (120,240) -- (160,240);
		\draw[wire] (lva) |- (rv376) -| (jr1);
		\draw[wire] (lvb) |- (rv377) -| (jr2);
		\node[lab] (lv284t) at (42,178) {LV284};
		\node[tint] (ketsut) at (42,202) {KETSU};
		\node[tint] (rv376t) at (143,146) {RV376\\SHORT};
		\node[tint] (rv377t) at (137,333) {RV377\\SHORT};

		\node[chip] (qv12) at (1022,170) {};
		\node[term] (dotq) at (980,116) {};
		\node[pinc] (pa1) at (922,116) {1};
		\node[pinc] (pa2) at (922,170) {2};
		\node[pinc] (pa3) at (922,222) {3};
		\node[pinc] (pb1) at (1122,116) {6};
		\node[pinc] (pb2) at (1122,170) {5};
		\node[pinc] (pb3) at (1122,222) {4};
		\draw[thinw] (pa1) -- (pa1 -| qv12.west) (pa2) -- (pa2 -| qv12.west) (pa3) -- (pa3 -| qv12.west) (pb1) -- (pb1 -| qv12.east) (pb2) -- (pb2 -| qv12.east) (pb3) -- (pb3 -| qv12.east);
		\node[tint] (qv12t) at (988,50) {QV12\\[1pt]MM1565XN};
		\node[volt] (v0a) at (900,102) {0};
		\node[volt] (v26a) at (893,156) {2.6};
		\node[volt] (v51) at (893,207) {5.1};
		\node[volt] (v26b) at (1150,102) {2.6};
		\node[volt] (v0b) at (1147,156) {0};
		\node[tint] (v0c) at (1140,222) {0};

		\node[gater] (v5v2) at (375,313) {\gtx{5V2}};
		\node[gatel] (gnd19) at (1293,313) {\gtx{GND}};
		\node[gatel] (vMon) at (1362,116) {\gtx{V\_MON}};
		\node[lab] (s21t) at (322,313) {8-E8};
		\node[lab] (s22t) at (1502,116) {2-B1};

		\node[rzig] (rv90) at (757,172) {};
		\node[caph] (cv84) at (838,172) {};
		\node[caph] (cv678) at (1295,116) {};
		\node[capv] (cv56) at (895,278) {};
		\node[capv] (cv650) at (852,392) {};
		\node[coil] (lv13) at (795,313) {};
		\node[rzig] (srv14) at (795,352) {};
		\coordinate (cvin) at (880,278);
		\node[junc] (j735b) at (735,313) {};
		\node[junc] (j852a) at (852,313) {};
		\node[junc] (j852b) at (852,352) {};
		\node[junc] (j852c) at (852,222) {};
		\node[junc] (j852d) at (852,437) {};
		\node[junc] (j895a) at (895,222) {};
		\node[junc] (j895b) at (895,313) {};
		\node[junc] (j875) at (875,313) {};
		\node[junc] (j1078a) at (1078,313) {};
		\node[junc] (j1078b) at (1078,437) {};
		\node[junc] (j1163) at (1163,313) {};
		\coordinate (gnd6a) at (1078,478);
		\pic at (gnd6a) {earth};

		\draw[wire] (jr1) -- ++(558,0) |- (cvin);
		\draw[wire] (jr2) -- ++(176,0) |- (rv90);
		\draw[wire] (rv90) -- (cv84) -- (pa2);
		\draw[wire] (pa1) -| (j875);
		\draw[wire] (pa3) -- (j852c);
		\draw[wire] (j852c) -- (cv650) -- (j852d) -- (j1078b);
		\draw[wire] (j895a) -- (cv56) -- (j895b);
		\draw[wire] (v5v2.east) -- (j735b) -- (lv13) -- (j852a);
		\draw[wire] (j735b) |- (srv14);
		\draw[wire] (srv14) -- (j852b);
		\draw[wire] (j875) -- (j1078a) -- (j1163) -- (gnd19.west);
		\draw[wire] (j1078a) -- (gnd6a);
		\draw[wire] (pb2) -| (j1163);
		\draw[wire] (pb1) -- (cv678) -- (vMon.west);

		\node[tint] (rv90t) at (752,136) {RV90\\1/10W75};
		\node[tint] (cv84t) at (835,136) {CV84\\16V/4.7uF};
		\node[tint] (cv678t) at (1292,85) {CV678\\16V/10uF};
		\node[tint] (cv56t) at (928,276) {CV56\\F0.1};
		\node[tint] (lv13t) at (793,295) {LV13};
		\node[tint] (dclt) at (795,325) {DCLTRF4100CN};
		\node[tint] (srv14t) at (780,382) {SRV14\\SHORT};
		\node[tint] (cv650t) at (900,388) {CV650\\16V/100};
	\end{scope}

	%HDMI
	\begin{scope}[sec={1320}{640}{3}]
		\draw[brace] (175,108) -- (130,125) -- (130,395) -- (178,412);
		\draw[shield] (333,171) -- (372,171) -- (372,397);
		\draw[shield] (333,246) -- (364,246) -- (364,397);
		\node[big, rotate=90] (hdmit) at (65,290) {HDMI};
		\node[lab] (h1rt) at (228,150) {HDMI1-R};
		\node[lab] (h1lt) at (228,225) {HDMI1-L};
		\node[lab] (h2rt) at (228,300) {HDMI2-R};
		\node[lab] (h2lt) at (228,378) {HDMI2-L};
		\node[tint] (jack4t) at (338,85) {4P AV JACK};
		\node[pvt] (ps01t) at (350,100) {PS01};
		\pic at (328,125) {jackd={L2}};
		\pic at (328,200) {jackd={R2}};
		\pic at (328,276) {jackd={L1}};
		\pic at (328,352) {jackd={R1}};

		\node[junc] (h1a) at (387,125) {};
		\node[junc] (h1b) at (387,148) {};
		\node[junc] (h2a) at (387,200) {};
		\node[junc] (h2b) at (387,223) {};
		\node[junc] (h3a) at (387,276) {};
		\node[junc] (h3b) at (387,298) {};
		\node[junc] (h3c) at (387,322) {};
		\node[junc] (h4a) at (387,352) {};
		\node[junc] (h4b) at (387,375) {};
		\node[junc] (h4c) at (387,397) {};
		\node[junc] (j467) at (467,298) {};
		\node[junc] (j437) at (437,375) {};
		\node[junc] (j555) at (555,397) {};
		\node[junc] (j403) at (403,397) {};

		\node[rzig] (rc12) at (785,95) {};
		\node[rzig] (rc11) at (785,155) {};
		\node[rzig] (rc14) at (785,276) {};
		\node[rzig] (rc13) at (785,322) {};
		\node[caph] (cb13) at (910,457) {};
		\node[caph] (cb14) at (910,503) {};
		\node[capv] (cc15) at (903,185) {};
		\node[capv] (cc14) at (933,185) {};
		\node[capv] (cc16) at (903,350) {};
		\node[capv] (cc17) at (933,350) {};
		\node[rzigv] (r830a) at (758,538) {};
		\node[rzigv] (r830b) at (790,538) {};

		\node[gater] (lH1) at (1130,95) {\gtx{L\_HDMI1}};
		\node[gater] (rH1) at (1130,155) {\gtx{R\_HDMI1}};
		\node[gater] (gnd20) at (1130,216) {\gtx{GND}};
		\node[gater] (lH2) at (1130,276) {\gtx{L\_HDMI2}};
		\node[gater] (rH2) at (1130,322) {\gtx{R\_HDMI2}};
		\node[gater] (gnd21) at (1130,380) {\gtx{GND}};
		\node[gatel] (rH) at (1130,457) {\gtx{R\_HDMI}};
		\node[gatel] (lH) at (1130,503) {\gtx{L\_HDMI}};
		\node[gatel] (gnd22) at (1130,565) {\gtx{GND}};
		\node[lab] (s23t) at (1278,96) {7-D1};
		\node[lab] (s24t) at (1278,152) {7-D1};
		\node[lab] (s25t) at (1278,455) {4-D4};
		\node[lab] (s26t) at (1278,502) {4-E4};

		\draw[wire] (h1a) -- ++(16,0) -- ++(0,-30) -- ++(94,0) |- (rc11);
		\draw[wire] (rc11) -- (rH1.west);
		\draw[wire] (h1b) -- ++(80,0) |- (cb13);
		\draw[wire] (cb13) -- (rH.west);
		\draw[wire] (h2a) -- ++(50,0) -- ++(0,-75) -- ++(90,0) |- (rc12);
		\draw[wire] (rc12) -- (lH1.west);
		\draw[wire] (h2b) -- ++(50,0) |- (cb14);
		\draw[wire] (cb14) -- (lH.west);
		\draw[wire] (h3a) -- ++(110,0) |- (rc13);
		\draw[wire] (rc13) -- (rH2.west);
		\draw[wire] (h3b) -- (j467);
		\draw[wire] (h4a) -- ++(140,0) |- (rc14);
		\draw[wire] (rc14) -- (lH2.west);
		\draw[wire] (h4b) -- (j437);
		\draw[wire] (h3c) -- ++(16,0) |- (gnd22.west);
		\draw[wire] (h4c) -- ++(350,0) |- (gnd21.west);
		\draw[wire] (j555) |- (gnd20.west);

		\node[junc] (j903a) at (903,95) {};
		\node[junc] (j903b) at (903,216) {};
		\node[junc] (j933e) at (933,155) {};
		\node[junc] (j933f) at (933,216) {};
		\node[junc] (j903c) at (903,276) {};
		\node[junc] (j903d) at (903,380) {};
		\node[junc] (j933g) at (933,322) {};
		\node[junc] (j933h) at (933,380) {};
		\node[junc] (j758a) at (758,503) {};
		\node[junc] (j758b) at (758,565) {};
		\node[junc] (j790a) at (790,457) {};
		\node[junc] (j790b) at (790,565) {};
		\draw[wire] (j903a) -- (cc15) -- (j903b) (j933e) -- (cc14) -- (j933f) (j903c) -- (cc16) -- (j903d) (j933g) -- (cc17) -- (j933h);
		\draw[wire] (j758a) -- (r830a) -- (j758b) (j790a) -- (r830b) -- (j790b);

		\node[tint] (rc12t) at (783,66) {RC12\\820};
		\node[tint] (rc11t) at (783,184) {RC11\\820};
		\node[tint] (rc14t) at (785,247) {RC14\\820};
		\node[tint] (rc13t) at (785,349) {RC13\\820};
		\node[tint] (cc15t) at (868,187) {CC15\\B1000p};
		\node[tint] (cc14t) at (975,183) {CC14\\B/1000p};
		\node[tint] (cc16t) at (868,354) {CC16\\B1000p};
		\node[tint] (cc17t) at (975,351) {CC17\\B/1000p};
		\node[tint] (cb13t) at (910,430) {CB13\\B16V2.2};
		\node[tint] (cb14t) at (912,528) {CB14\\B16V2.2};
		\node[tint] (r830at) at (723,538) {R830\\100K};
		\node[tint] (r830bt) at (815,538) {R830\\100K};
		\node[tint] (n21t) at (1060,83) {L\_HDMI1};
		\node[tint] (n22t) at (1060,143) {R\_HDMI1};
		\node[tint] (n23t) at (1057,262) {L\_HDMI2};
		\node[tint] (n24t) at (1057,307) {R\_HDMI2};
		\node[tint] (n25t) at (1077,445) {R\_HDMI};
		\node[tint] (n26t) at (1080,490) {L\_HDMI};
		\node[tint] (n27t) at (1078,550) {GND};
	\end{scope}

	%IR-OUT
	\begin{scope}[sec={1480}{190}{3}]
		\draw[shield] (172,155) -- (218,155) -- (218,225);
		\draw[jkl] (177,185) -- (170,190) -- (170,225);
		\draw[jkl] (170,222) rectangle (177,229);
		\node[big] (irout) at (135,62) {IR-OUT};
		\node[pvt] (pr80t) at (300,195) {PR80};
		\node[tint, anchor=west] (pr80v) at (237,223) {3.5\textbackslash U+08AA\textbackslash U+0131 PHONE JACK\textbackslash U+00ED\textbackslash U+00ED};

		\node[junc] (irp) at (195,172) {};
		\coordinate (irg) at (219,225);
		\node[junc] (irr) at (175,365) {};
		\node[junc] (ird) at (175,418) {};
		\node[junc] (irq) at (219,365) {};
		\node[junc] (irs) at (219,418) {};
		\node[rzig] (r876) at (200,365) {};
		\node[rzigv] (r877) at (233,327) {};
		\coordinate (dd) at (198,418);
		\pic at (dd) {diode};

		\node[gatel] (irOut) at (915,757) {\gtx{IR\_OUT}};
		\node[gatel] (gnd23) at (915,800) {\gtx{GND}};
		\node[lab] (s27t) at (1067,755) {1-C3};

		\draw[wire] (irp) -- ++(0,138) -- ++(-20,0) |- (irOut.west);
		\draw[wire] (irg) |- (gnd23.west);
		\draw[thinw] (irr) -- (r876) -- (irq);
		\draw[thinw] (ird) -- (dd) -- (irs);
		\draw[wire] (irq) -- ++(49,0) |- (r877);

		\node[tint] (r876t) at (135,357) {R876\\KETSU};
		\node[tint] (dr76t) at (135,422) {DR76\\MA111};
		\node[tint, rotate=90] (ma111t) at (245,418) {MA111-TX2};
		\node[tint] (n28t) at (850,745) {IR\_OUT};
		\node[tint] (n29t) at (845,790) {GND};
	\end{scope}
\end{tikzpicture}
\end{document}
